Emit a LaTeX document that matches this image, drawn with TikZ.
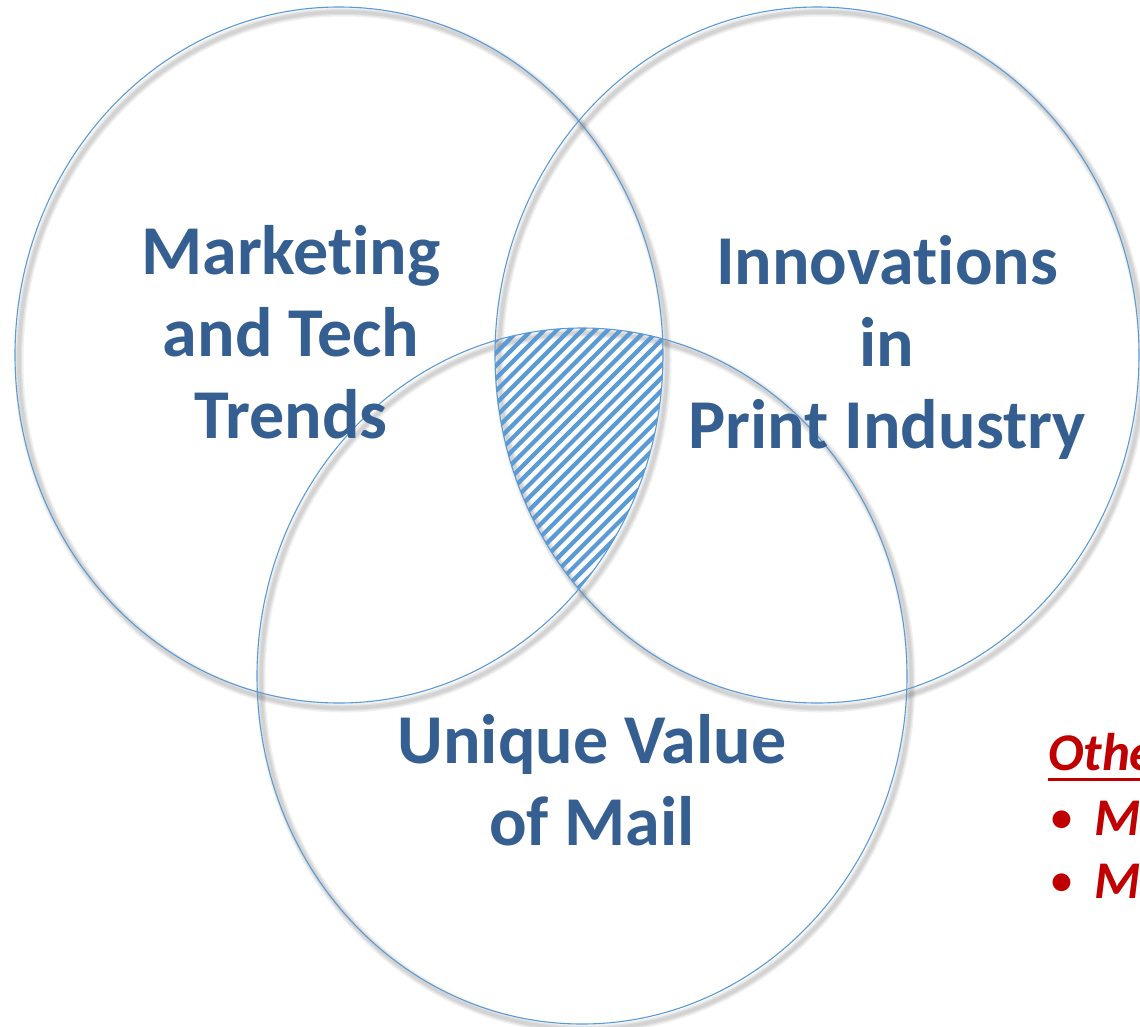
\documentclass[tikz,border=0pt]{standalone}
\usepackage{fontspec}
\setmainfont{Carlito}[Ligatures={NoCommon}]
\begin{document}
\begin{tikzpicture}[x=1pt,y=-1pt,
  ringline/.style={draw=ringblue, line width=1.1pt},
  ringshadow/.style={draw=black, line width=#1, opacity=0.06},
  venntext/.style={text=textblue, align=center, inner sep=0pt,
    font=\bfseries\fontsize{70}{82}\selectfont},
  notetext/.style={text=notered, inner sep=0pt, anchor=base west,
    font=\bfseries\itshape\fontsize{53}{62}\selectfont},
  bullettext/.style={notetext, font=\bfseries\fontsize{42}{62}\selectfont},
  hatchline/.style={draw=ringblue, line width=4.2pt}
]
\definecolor{ringblue}{RGB}{91,155,213}
\definecolor{textblue}{RGB}{54,95,145}
\definecolor{notered}{RGB}{192,0,0}

\useasboundingbox (0,0) rectangle (1140,1026);
\clip (0,0) rectangle (1140,1026);
\fill[white] (0,0) rectangle (1140,1026);

% soft drop shadows
\foreach \w in {9pt,6pt,3.5pt}{
  \begin{scope}[shift={(4,5)}]
    \draw[ringshadow=\w] (339,355) ellipse [x radius=324pt, y radius=348pt];
    \draw[ringshadow=\w] (817,355) ellipse [x radius=322pt, y radius=348pt];
    \draw[ringshadow=\w] (582,676) ellipse [x radius=325pt, y radius=348pt];
  \end{scope}
}

% hatched common region of the three sets
\begin{scope}
  \clip (339,355) ellipse [x radius=324pt, y radius=348pt];
  \clip (817,355) ellipse [x radius=322pt, y radius=348pt];
  \clip (582,676) ellipse [x radius=325pt, y radius=348pt];
  \foreach \c in {0,...,40}{
    \draw[hatchline] ({760+\c*12.7},0) -- ({760+\c*12.7-700},700);
  }
\end{scope}

% outlines
\draw[ringline] (339,355) ellipse [x radius=324pt, y radius=348pt];
\draw[ringline] (817,355) ellipse [x radius=322pt, y radius=348pt];
\draw[ringline] (582,676) ellipse [x radius=325pt, y radius=348pt];

% set labels
\node[venntext] (mkt) at (291,332) {Marketing\\and Tech\\Trends};
\node[venntext] (inn) at (887,347) {Innovations\\in\\Print Industry};
\node[venntext] (mail) at (592,780) {Unique Value\\of Mail};

% side note
\node[notetext] (other) at (1048,770) {Othe};
\draw[notered, line width=3pt] ([yshift=-9pt]other.base west) -- ([yshift=-9pt]other.base east);
\node[bullettext] (b1) at (1051,831) {•};
\node[notetext] (m1) at (1094,835) {M};
\node[bullettext] (b2) at (1051,894) {•};
\node[notetext] (m2) at (1094,898) {M};
\end{tikzpicture}
\end{document}
